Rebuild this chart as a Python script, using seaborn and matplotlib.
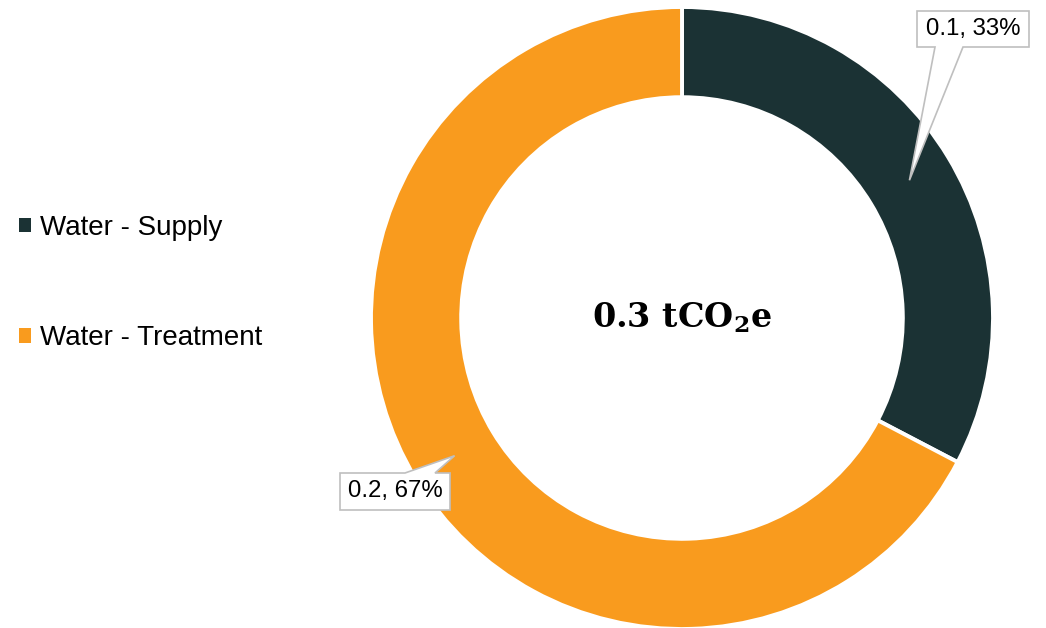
import numpy as np
import matplotlib
matplotlib.use("Agg")
import matplotlib.pyplot as plt
import seaborn as sns
from matplotlib.patches import Polygon, Patch

categories = ["Water - Supply", "Water - Treatment"]
values = [0.098, 0.202]
total_label = r"0.3 tCO$_\mathbf{2}$e"
colors = ["#1B3234", "#F99B1E"]

sns.set_theme(style="white")
plt.rcParams['font.family'] = ['Liberation Sans', 'DejaVu Sans']
plt.rcParams['mathtext.fontset'] = 'custom'
plt.rcParams['mathtext.bf'] = 'DejaVu Serif:bold'
plt.rcParams['mathtext.rm'] = 'DejaVu Serif:bold'
palette = sns.color_palette(colors)

W, H = 1046, 628
fig = plt.figure(figsize=(W / 100, H / 100), dpi=100)
cx, cy, R = 682, 318, 311
ax = fig.add_axes([(cx - R) / W, (H - cy - R) / H, 2 * R / W, 2 * R / H])
ax.axis("off")

wedge_w = 0.29
wedges, _ = ax.pie(values, colors=palette, startangle=90, counterclock=False,
                   radius=1.0, wedgeprops=dict(width=wedge_w, edgecolor="white", linewidth=2.8))
ax.set_xlim(-1, 1)
ax.set_ylim(-1, 1)
ax.set_aspect("equal")

ax.text(0, 0, total_label, ha="center", va="center", fontsize=24,
        fontweight="bold", family=["DejaVu Serif"], color="black")

# callout labels
vals = np.array(values)
fracs = vals / vals.sum()
starts = 90 - np.concatenate([[0], np.cumsum(fracs)[:-1]]) * 360
mids = starts - fracs * 180
rmid = 1 - wedge_w / 2

def px2fig(x, y):
    return (x / W, 1 - y / H)

boxes = [
    ((917, 11, 1029, 47), "bottom", 935, 963),
    ((340, 473, 450, 510), "top", 405, 435),
]
fig.canvas.draw()
for i, ((l, t, r, b), side, bx0, bx1) in enumerate(boxes):
    ang = np.deg2rad(mids[i])
    tip_disp = ax.transData.transform((rmid * np.cos(ang), rmid * np.sin(ang)))
    tip_fig = fig.transFigure.inverted().transform(tip_disp)
    if side == "bottom":
        pts = [px2fig(l, t), px2fig(r, t), px2fig(r, b), px2fig(bx1, b), tuple(tip_fig),
               px2fig(bx0, b), px2fig(l, b)]
    else:
        pts = [px2fig(l, t), px2fig(bx0, t), tuple(tip_fig), px2fig(bx1, t), px2fig(r, t),
               px2fig(r, b), px2fig(l, b)]
    poly = Polygon(pts, closed=True, transform=fig.transFigure, facecolor="white",
                   edgecolor="#BFBFBF", linewidth=1.2, zorder=5)
    fig.patches.append(poly)
    tx, ty = px2fig((l + r) / 2, (t + b) / 2)
    fig.text(tx, ty, f"{vals[i]:.1f}, {fracs[i] * 100:.0f}%", ha="center", va="center",
             fontsize=17.3, color="black", zorder=6)

handles = [Patch(facecolor=palette[i], edgecolor="none") for i in range(len(categories))]
leg = fig.legend(handles, categories, loc="center left", bbox_to_anchor=(19 / W, 1 - 283 / H),
                 frameon=False, fontsize=20, handlelength=0.42, handleheight=0.42,
                 handletextpad=0.35, labelspacing=3.05, borderpad=0, borderaxespad=0,
                 labelcolor="black")

fig.savefig("out.png", dpi=100)
